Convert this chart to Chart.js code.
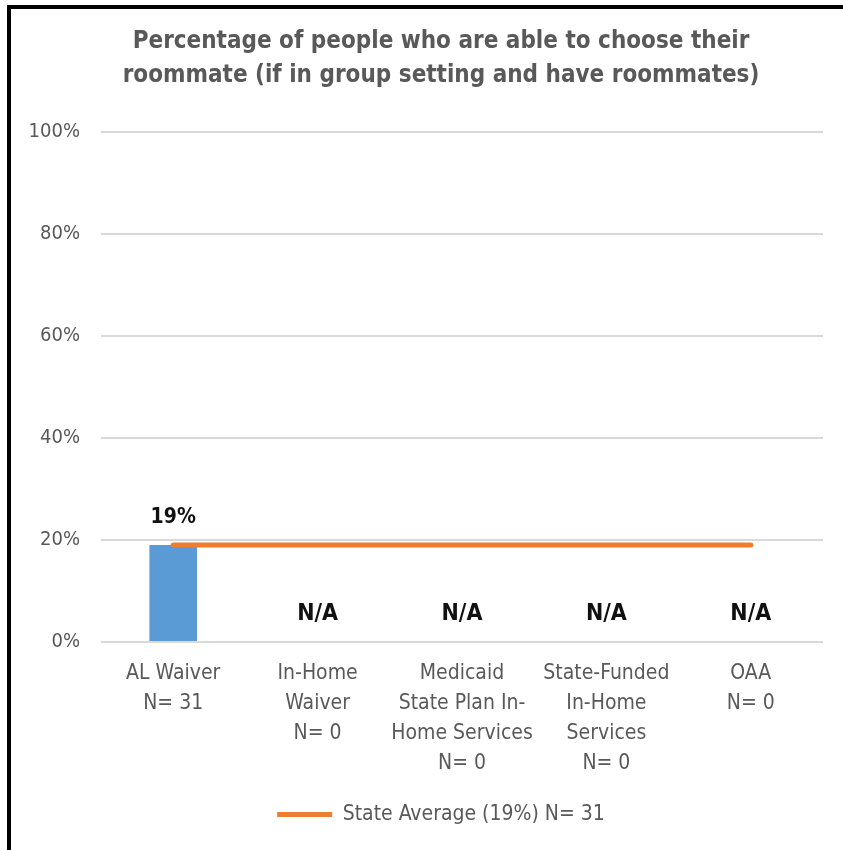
<!DOCTYPE html>
<html>
<head>
<meta charset="utf-8">
<script src="https://cdn.jsdelivr.net/npm/chart.js@4/dist/chart.umd.min.js"></script>
<style>
  html, body { margin: 0; padding: 0; background: #fff; overflow: hidden; width: 843px; height: 850px; }
  #frame { position: absolute; left: 7px; top: 5px; width: 900px; height: 900px; border-left: 4px solid #000; border-top: 4px solid #000; background: #fff; }
  #wrap { position: absolute; left: 0; top: 0; width: 860px; height: 841px; }
</style>
</head>
<body>
<div id="frame"><div id="wrap"><canvas id="c"></canvas></div></div>
<script>
const categories = [
  ["AL Waiver", "N= 31"],
  ["In-Home", "Waiver", "N= 0"],
  ["Medicaid", "State Plan In-", "Home Services", "N= 0"],
  ["State-Funded", "In-Home", "Services", "N= 0"],
  ["OAA", "N= 0"]
];
const programValues = [19, null, null, null, null];
const stateAverage = [19, 19, 19, 19, 19];
const stateAverageLabel = "State Average (19%) N= 31";
const titleLines = ["Percentage of people who are able to choose their", "roommate (if in group setting and have roommates)"];
const yTicks = [0, 20, 40, 60, 80, 100];

const FONT = "'Liberation Sans Narrow', 'DejaVu Sans Condensed', 'Open Sans', sans-serif";
const GRAY = '#595959';

const labelPlugin = {
  id: 'valueLabels',
  afterDatasetsDraw(chart) {
    const ctx = chart.ctx;
    const xs = chart.scales.x, ys = chart.scales.y;
    const meta = chart.getDatasetMeta(0);
    ctx.save();
    ctx.fillStyle = '#111';
    ctx.textAlign = 'center';
    ctx.textBaseline = 'middle';
    programValues.forEach((v, i) => {
      const x = xs.getPixelForValue(i);
      if (v === null) {
        ctx.font = "bold 23px " + FONT;
        ctx.fillText('N/A', x, ys.getPixelForValue(0) - 28);
      } else {
        ctx.font = "bold 21px " + FONT;
        ctx.fillText(v + '%', meta.data[i].x, meta.data[i].y - 27);
      }
    });
    ctx.restore();
  }
};

new Chart(document.getElementById('c'), {
  data: {
    labels: categories,
    datasets: [
      {
        type: 'bar',
        label: 'Programs',
        data: programValues,
        backgroundColor: '#5B9BD5',
        barPercentage: 0.33,
        categoryPercentage: 1.0,
        order: 2
      },
      {
        type: 'line',
        label: stateAverageLabel,
        data: stateAverage,
        borderColor: '#ED7D31',
        backgroundColor: '#ED7D31',
        borderWidth: 5,
        borderCapStyle: 'round',
        pointRadius: 0,
        pointHoverRadius: 0,
        pointStyle: 'line',
        fill: false,
        order: 1
      }
    ]
  },
  options: {
    responsive: true,
    maintainAspectRatio: false,
    animation: false,
    layout: { padding: { left: 0, right: 0, top: 0, bottom: 15 } },
    plugins: {
      title: {
        display: true,
        text: titleLines,
        color: GRAY,
        font: { family: FONT, size: 24, weight: 'bold', lineHeight: 1.417 },
        padding: { top: 16, bottom: 39 }
      },
      legend: {
        display: true,
        position: 'bottom',
        labels: {
          filter: (item) => item.datasetIndex === 1,
          usePointStyle: true,
          pointStyleWidth: 55,
          color: GRAY,
          font: { family: FONT, size: 21 },
          padding: 11
        }
      },
      tooltip: { enabled: false }
    },
    scales: {
      x: {
        grid: { display: false },
        border: { display: false },
        afterFit(scale) { scale.height += 5; },
        ticks: {
          color: GRAY,
          font: { family: FONT, size: 21, lineHeight: 1.43 },
          padding: 9,
          maxRotation: 0,
          autoSkip: false
        }
      },
      y: {
        min: 0,
        max: 100,
        afterFit(scale) { scale.width = 90; },
        afterBuildTicks(scale) { scale.ticks = yTicks.map(v => ({ value: v })); },
        grid: { color: '#D9D9D9', lineWidth: 2, drawTicks: false },
        border: { display: false },
        ticks: {
          color: GRAY,
          font: { family: FONT, size: 20 },
          padding: 21,
          callback: (v) => v + '%'
        }
      },
      yRight: {
        position: 'right',
        display: true,
        min: 0,
        max: 100,
        afterFit(scale) { scale.width = 48; },
        grid: { display: false, drawTicks: false },
        border: { display: false },
        ticks: { display: false }
      }
    }
  },
  plugins: [labelPlugin]
});
</script>
</body>
</html>
